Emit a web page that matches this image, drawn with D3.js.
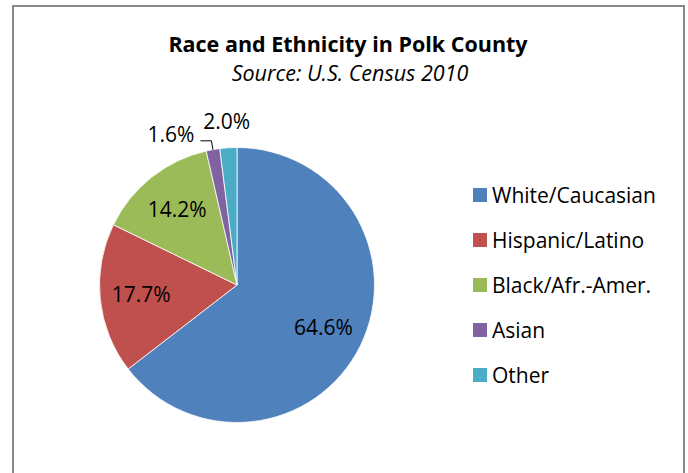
<!DOCTYPE html>
<html>
<head>
<meta charset="utf-8">
<script src="https://cdn.jsdelivr.net/npm/d3@7"></script>
<style>
  html, body { margin: 0; padding: 0; background: #fff; }
  text { font-family: "Open Sans", "Noto Sans", sans-serif; fill: #000; }
</style>
</head>
<body>
<svg id="chart" width="688" height="473"></svg>
<script>
const categories = ["White/Caucasian", "Hispanic/Latino", "Black/Afr.-Amer.", "Asian", "Other"];
const values = [64.6, 17.7, 14.2, 1.6, 2.0];
const labels = ["64.6%", "17.7%", "14.2%", "1.6%", "2.0%"];
const colors = ["#4F81BD", "#C0504D", "#9BBB59", "#8064A2", "#4BACC6"];
const title = "Race and Ethnicity in Polk County";
const subtitle = "Source: U.S. Census 2010";

const svg = d3.select("#chart");

// frame
svg.append("rect").attr("x", 13).attr("y", 6).attr("width", 671).attr("height", 480)
  .attr("fill", "#fff").attr("stroke", "#888").attr("stroke-width", 2);

svg.append("text").attr("x", 348).attr("y", 52).attr("text-anchor", "middle")
  .attr("font-weight", "bold").attr("font-size", 21.5).text(title);
svg.append("text").attr("x", 350).attr("y", 81).attr("text-anchor", "middle")
  .attr("font-style", "italic").attr("font-size", 21.5).text(subtitle);

const cx = 237, cy = 285, R = 137.5;
const data = categories.map((c, i) => ({ cat: c, value: values[i], label: labels[i], color: colors[i] }));
const pie = d3.pie().sort(null).value(d => d.value);
const arcs = pie(data);
const arc = d3.arc().innerRadius(0).outerRadius(R);
const g = svg.append("g").attr("transform", `translate(${cx},${cy})`);

g.selectAll("path").data(arcs).join("path")
  .attr("d", arc).attr("fill", d => d.data.color)
  .attr("stroke", "#fff").attr("stroke-width", 0.8);

const labelArc = d3.arc().innerRadius(R * 0.7).outerRadius(R * 0.7);
const mid = d => (d.startAngle + d.endAngle) / 2;
const pt = (a, r) => [Math.sin(a) * r, -Math.cos(a) * r];
const LF = 21;

arcs.forEach((d, i) => {
  if (d.data.value >= 5) {
    const [x, y] = labelArc.centroid(d);
    g.append("text").attr("x", x).attr("y", y).attr("dy", "0.35em")
      .attr("text-anchor", "middle").attr("font-size", LF).text(d.data.label);
  } else if (i === categories.length - 1) {
    const [x, y] = pt(mid(d), R * 1.19);
    g.append("text").attr("x", x).attr("y", y).attr("dy", "0.35em")
      .attr("text-anchor", "middle").attr("font-size", LF).text(d.data.label);
  } else {
    const a = mid(d);
    const p0 = pt(a, R);
    const p1 = pt(a, R * 1.065);
    const p2 = [p1[0] - 11, p1[1]];
    g.append("path").attr("d", d3.line()([p0, p1, p2]))
      .attr("fill", "none").attr("stroke", "#000").attr("stroke-width", 1);
    g.append("text").attr("x", p2[0] - 6).attr("y", p2[1] - 6).attr("dy", "0.35em")
      .attr("text-anchor", "end").attr("font-size", LF).text(d.data.label);
  }
});

// legend
const leg = svg.append("g");
const rowY = d3.scalePoint().domain(categories).range([195, 375]);
categories.forEach((c, i) => {
  const y = rowY(c);
  leg.append("rect").attr("x", 473).attr("y", y - 7).attr("width", 14).attr("height", 14).attr("fill", colors[i]);
  leg.append("text").attr("x", 492).attr("y", y + 1).attr("dy", "0.35em").attr("font-size", 21).text(c);
});
</script>
</body>
</html>
